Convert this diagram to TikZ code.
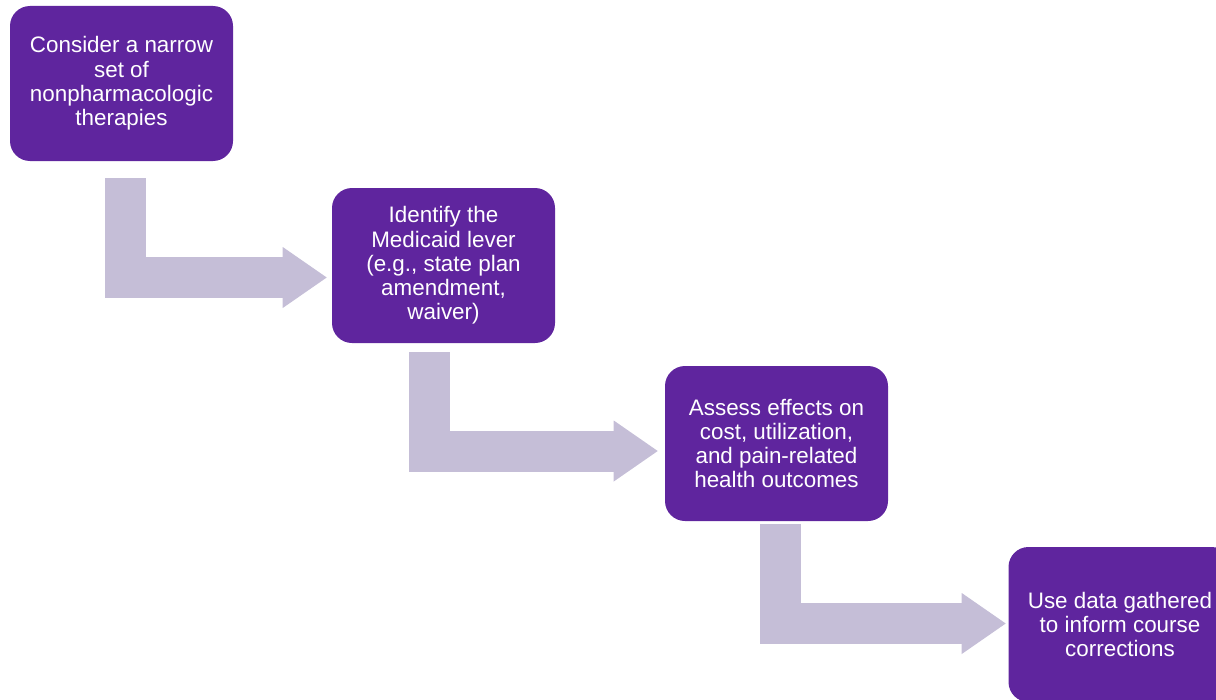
\documentclass[tikz,border=0pt]{standalone}
\usepackage{fontspec}
\setmainfont{Liberation Sans}
\usetikzlibrary{calc}
\usetikzlibrary{arrows.meta}
\definecolor{stepPurple}{RGB}{95,37,158}
\definecolor{flowLilac}{RGB}{197,190,215}
\tikzset{
  stepbox/.style={fill=stepPurple, text=white, rounded corners=15pt, align=center,
    minimum width=167.25pt, minimum height=116.25pt, inner sep=0pt,
    font=\fontsize{16.8}{18.2}\selectfont},
  bentarrow/.style={draw=flowLilac, line width=30.75pt, line join=miter,
    -{Triangle[length=33pt, width=45.75pt, line width=0pt, fill=flowLilac]}}
}

\begin{document}
\begin{tikzpicture}[x=0.75pt, y=-0.75pt]
    \useasboundingbox (0,0) rectangle (1216,699);
    \clip (0,0) rectangle (1216,699);

    \node[stepbox] (consider) at (121.5,83.5) {Consider a narrow\\ set of\\ nonpharmacologic\\ therapies};
    \node[stepbox] (lever) at (443.5,265.5) {Identify the\\ Medicaid lever\\ (e.g., state plan\\ amendment,\\ waiver)};
    \node[stepbox] (assess) at (776.5,443.5) {Assess effects on\\ cost, utilization,\\ and pain-related\\ health outcomes};
    \node[stepbox] (usedata) at (1120,624.5) {Use data gathered\\ to inform course\\ corrections};

    % bent arrows between the steps
    \draw[bentarrow] ($(consider.south)+(4,17)$) |- ($(lever.west)+(-5,12)$);
    \draw[bentarrow] ($(lever.south)+(-14,9)$) |- ($(assess.west)+(-7,7.5)$);
    \draw[bentarrow] ($(assess.south)+(4,3)$) |- ($(usedata.west)+(-2.5,-1)$);
\end{tikzpicture}
\end{document}
